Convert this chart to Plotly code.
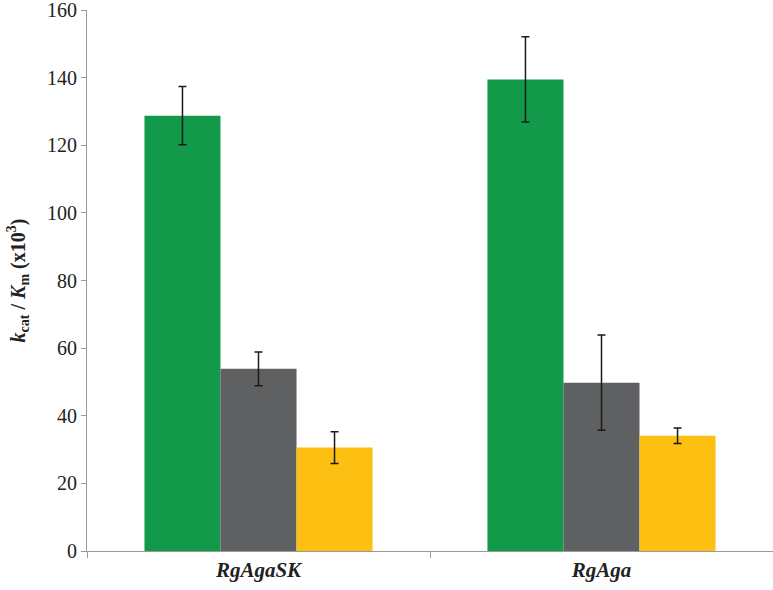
import plotly.graph_objects as go

categories = ["<b><i>RgAgaSK</i></b>", "<b><i>RgAga</i></b>"]
series_names = ["Series 1", "Series 2", "Series 3"]
green_vals = [128.8, 139.5]
green_err = [8.6, 12.6]
gray_vals = [53.9, 49.8]
gray_err = [5.0, 14.1]
yellow_vals = [30.6, 34.1]
yellow_err = [4.7, 2.3]
y_ticks = [0, 20, 40, 60, 80, 100, 120, 140, 160]

colors = ["#13994A", "#5F6062", "#FDC012"]
vals = [green_vals, gray_vals, yellow_vals]
errs = [green_err, gray_err, yellow_err]

SERIF = "Times New Roman, Liberation Serif, serif"

fig = go.Figure()
for name, v, e, c in zip(series_names, vals, errs, colors):
    fig.add_trace(go.Bar(
        x=categories, y=v, name=name, marker=dict(color=c, line=dict(width=0)),
        error_y=dict(type="data", array=e, visible=True, color="#1a1a1a", thickness=1.5, width=4),
    ))

fig.update_layout(
    width=773, height=590,
    margin=dict(l=87, r=0, t=10, b=39),
    paper_bgcolor="white", plot_bgcolor="white",
    barmode="group", bargap=0.335, bargroupgap=0,
    showlegend=False,
    font=dict(family=SERIF, color="#222222"),
)
fig.update_yaxes(
    range=[0, 160.05], tickvals=y_ticks, ticks="outside", ticklen=5, tickcolor="#999999",
    showline=True, linecolor="#999999", linewidth=1, showgrid=False, zeroline=False,
    automargin=False, ticklabeloverflow="allow",
    tickfont=dict(family=SERIF, size=20, color="#222222"),
    title=dict(text="<b><i>k</i><sub>cat</sub> / <i>K</i><sub>m</sub> (x10<sup>3</sup>)</b>",
               font=dict(family=SERIF, size=20, color="#222222"), standoff=16),
)
fig.update_xaxes(
    showline=True, linecolor="#999999", linewidth=1, ticks="outside", tickson="boundaries",
    ticklen=6, tickcolor="#999999", showgrid=False, automargin=False,
    tickfont=dict(family=SERIF, size=21, color="#222222"),
)
fig.write_html("out.html", config={"displayModeBar": False},
               post_script="document.body.style.margin='0px';")
